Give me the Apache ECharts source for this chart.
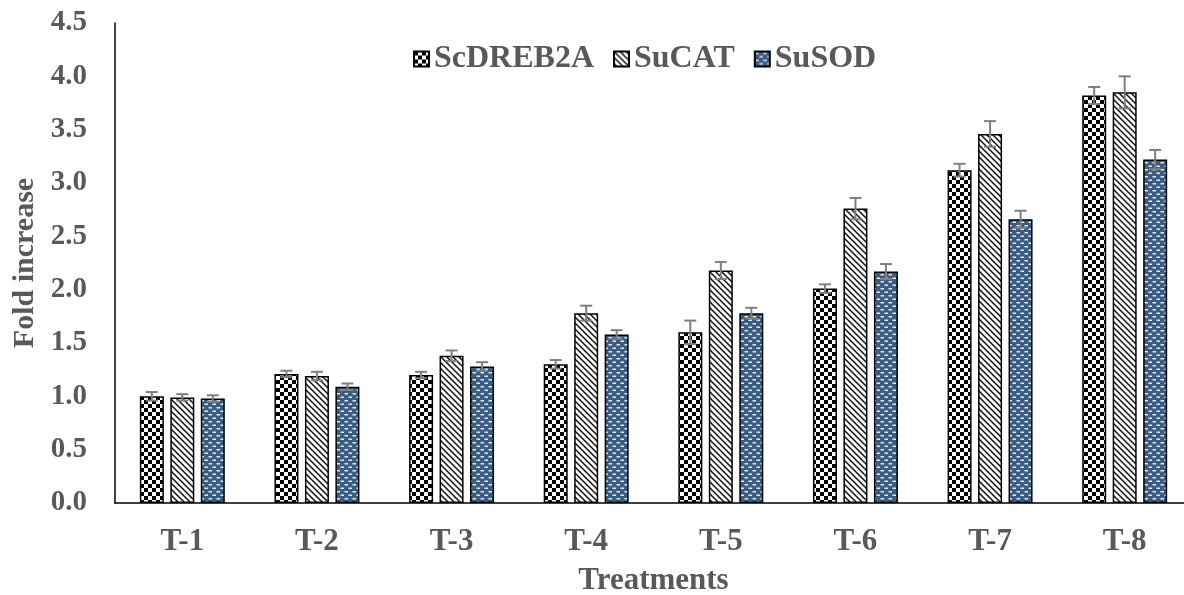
<!DOCTYPE html>
<html>
<head>
<meta charset="utf-8">
<script src="https://cdn.jsdelivr.net/npm/echarts@6/dist/echarts.min.js"></script>
<style>
html,body{margin:0;padding:0;background:#fff;}
#chart{width:1184px;height:595px;}
</style>
</head>
<body>
<div id="chart"></div>
<script>
var categories = ['T-1','T-2','T-3','T-4','T-5','T-6','T-7','T-8'];
var seriesNames = ['ScDREB2A','SuCAT','SuSOD'];
var scdreb2a = [1.00, 1.21, 1.20, 1.30, 1.60, 2.01, 3.12, 3.82];
var sucat    = [0.99, 1.19, 1.38, 1.78, 2.18, 2.76, 3.46, 3.85];
var susod    = [0.98, 1.09, 1.28, 1.58, 1.78, 2.17, 2.66, 3.22];
var errScdreb2a = [0.04, 0.03, 0.03, 0.04, 0.11, 0.04, 0.06, 0.08];
var errSucat    = [0.03, 0.04, 0.05, 0.07, 0.08, 0.10, 0.12, 0.15];
var errSusod    = [0.03, 0.03, 0.04, 0.04, 0.05, 0.07, 0.08, 0.09];
var yTicks = ['0.0','0.5','1.0','1.5','2.0','2.5','3.0','3.5','4.0','4.5'];

function makeCanvas(w, h, draw) {
  var c = document.createElement('canvas');
  c.width = w; c.height = h;
  draw(c.getContext('2d'));
  return c;
}
var checker = makeCanvas(8, 8, function (g) {
  g.fillStyle = '#fff'; g.fillRect(0, 0, 8, 8);
  g.fillStyle = '#000'; g.fillRect(0, 0, 4, 4); g.fillRect(4, 4, 4, 4);
});
var diag = makeCanvas(6, 6, function (g) {
  g.fillStyle = '#fff'; g.fillRect(0, 0, 6, 6);
  g.strokeStyle = '#111'; g.lineWidth = 1.5;
  g.beginPath();
  g.moveTo(-1, -1); g.lineTo(7, 7);
  g.moveTo(-1, 5); g.lineTo(1, 7);
  g.moveTo(5, -1); g.lineTo(7, 1);
  g.stroke();
});
var dots = makeCanvas(8, 7, function (g) {
  g.fillStyle = '#3a5d84'; g.fillRect(0, 0, 8, 7);
  g.fillStyle = '#e3e9f0';
  g.fillRect(0.5, 1, 3.5, 1.5);
  g.fillRect(4.5, 4.5, 3.5, 1.5);
});
var patterns = [checker, diag, dots];
var values = [scdreb2a, sucat, susod];
var errors = [errScdreb2a, errSucat, errSusod];

var font = 'Liberation Serif';
var gray = '#595959';
var barWidth = 24;
var barStep = 30.5;

var series = [];
seriesNames.forEach(function (name, i) {
  series.push({
    name: name,
    type: 'bar',
    data: values[i],
    barWidth: barWidth,
    barGap: '27%',
    itemStyle: {
      color: { image: patterns[i], repeat: 'repeat' },
      borderColor: '#000',
      borderWidth: 1.5
    },
    z: 2
  });
});
seriesNames.forEach(function (name, i) {
  series.push({
    type: 'custom',
    name: name + ' error',
    data: values[i].map(function (v, k) { return [k, v, errors[i][k]]; }),
    z: 5,
    silent: true,
    renderItem: function (params, api) {
      var k = api.value(0), v = api.value(1), e = api.value(2);
      var top = api.coord([k, v + e]);
      var bot = api.coord([k, v - e]);
      var x = top[0] + (i - 1) * barStep;
      var cap = 6;
      var st = { stroke: '#7f7f7f', lineWidth: 2 };
      return {
        type: 'group',
        children: [
          { type: 'line', shape: { x1: x, y1: top[1], x2: x, y2: bot[1] }, style: st },
          { type: 'line', shape: { x1: x - cap, y1: top[1], x2: x + cap, y2: top[1] }, style: st },
          { type: 'line', shape: { x1: x - cap, y1: bot[1], x2: x + cap, y2: bot[1] }, style: st }
        ]
      };
    }
  });
});

var chart = echarts.init(document.getElementById('chart'));
chart.setOption({
  animation: false,
  backgroundColor: '#fff',
  grid: { left: 115, top: 23, width: 1077, bottom: 92, outerBoundsMode: 'none', containLabel: false },
  legend: {
    data: seriesNames,
    left: 408,
    top: 38,
    icon: 'rect',
    itemWidth: 15,
    itemHeight: 15,
    itemGap: 19,
    textStyle: { fontFamily: font, fontWeight: 'bold', fontSize: 32, color: gray }
  },
  xAxis: {
    type: 'category',
    data: categories,
    name: 'Treatments',
    nameLocation: 'middle',
    nameGap: 62,
    nameTextStyle: { fontFamily: font, fontWeight: 'bold', fontSize: 31, color: gray },
    axisLine: { lineStyle: { color: '#000', width: 1.5 } },
    axisTick: { show: false },
    axisLabel: { margin: 23, fontFamily: font, fontWeight: 'bold', fontSize: 31, color: gray }
  },
  yAxis: {
    type: 'value',
    min: 0,
    max: 4.5,
    interval: 0.5,
    name: 'Fold increase',
    nameLocation: 'middle',
    nameGap: 71,
    nameTextStyle: { fontFamily: font, fontWeight: 'bold', fontSize: 30, color: gray },
    axisLine: { show: true, lineStyle: { color: '#000', width: 1.5 } },
    axisTick: { show: false },
    splitLine: { show: false },
    axisLabel: {
      margin: 28, fontFamily: font, fontWeight: 'bold', fontSize: 29, color: gray,
      formatter: function (v) { return yTicks[Math.round(v / 0.5)]; }
    }
  },
  series: series
});
</script>
</body>
</html>
